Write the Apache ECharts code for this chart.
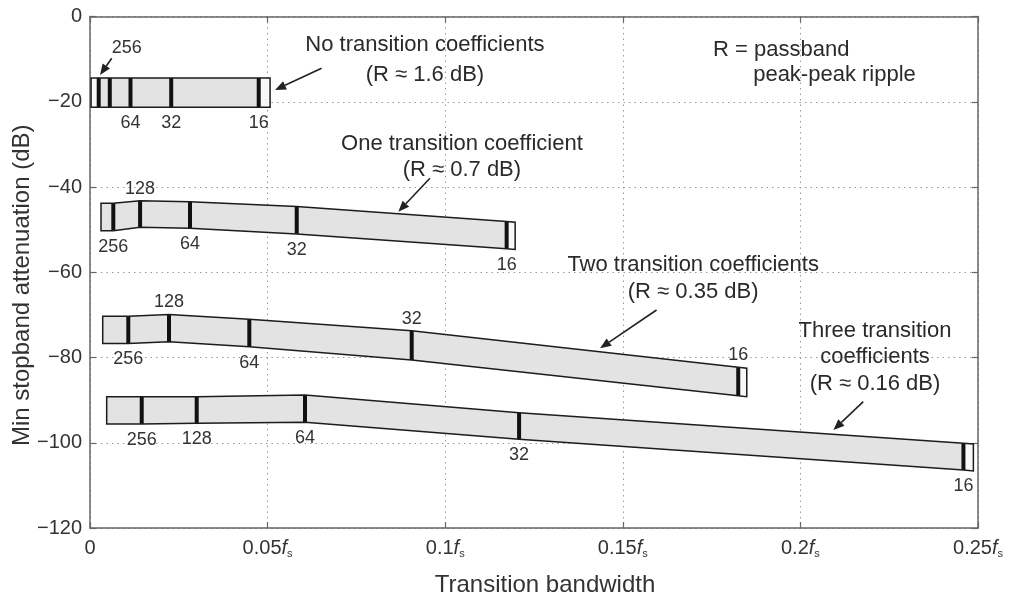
<!DOCTYPE html>
<html><head><meta charset="utf-8">
<script src="https://cdn.jsdelivr.net/npm/echarts@6/dist/echarts.min.js"></script>
<style>html,body{margin:0;padding:0;background:#fff}#c{width:1009px;height:592px}</style>
</head><body><div id="c"></div>
<script>
// ---------- DATA ----------
const xTickValues = [0, 0.05, 0.1, 0.15, 0.2, 0.25];
const yTickValues = [0, -20, -40, -60, -80, -100, -120];
const filterLengths = [256, 128, 64, 32, 16];

// each band: [left edge, N=256, 128, 64, 32, 16, right edge]
const band1X      = [0.0003, 0.00245, 0.00557, 0.0114, 0.02286, 0.0475, 0.0507];
const band1Top    = [-14.4, -14.4, -14.4, -14.4, -14.4, -14.4, -14.4];
const band1Bottom = [-21.3, -21.3, -21.3, -21.3, -21.3, -21.3, -21.3];

const band2X      = [0.0031, 0.00656, 0.0141, 0.02815, 0.0582, 0.1173, 0.1197];
const band2Top    = [-43.8, -43.8, -43.2, -43.45, -44.6, -48.1, -48.25];
const band2Bottom = [-50.25, -50.25, -49.45, -49.7, -51.0, -54.5, -54.65];

const band3X      = [0.00358, 0.01078, 0.02224, 0.04485, 0.09057, 0.1825, 0.1849];
const band3Top    = [-70.3, -70.3, -69.9, -71.0, -73.7, -82.3, -82.5];
const band3Bottom = [-76.7, -76.7, -76.3, -77.5, -80.6, -89.0, -89.2];

const band4X      = [0.0047, 0.01456, 0.03004, 0.06053, 0.1208, 0.2459, 0.2487];
const band4Top    = [-89.2, -89.2, -89.2, -88.8, -92.95, -100.1, -100.3];
const band4Bottom = [-95.6, -95.6, -95.4, -95.2, -99.2, -106.4, -106.6];

const bandTitles = [
  ['No transition coefficients', '(R \u2248 1.6 dB)'],
  ['One transition coefficient', '(R \u2248 0.7 dB)'],
  ['Two transition coefficients', '(R \u2248 0.35 dB)'],
  ['Three transition', 'coefficients', '(R \u2248 0.16 dB)']
];
const noteLines = ['R = passband', 'peak-peak ripple'];

// ---------- LAYOUT (not data) ----------
const FONT = 'Liberation Sans, Arial, Helvetica, sans-serif';
const labelSide = [
  [null, null, 'below', 'below', 'below'],
  ['below', 'above', 'below', 'below', 'below'],
  ['below', 'above', 'below', 'above', 'above'],
  ['below', 'below', 'below', 'below', 'below']
];
const lightStart = [true, false, false, false];
// title anchors in data coords: [x, y of each line]
const titleAnchor = [
  {x: 0.0943, ys: [-6.7, -13.7]},
  {x: 0.1047, ys: [-29.9, -36.0]},
  {x: 0.1698, ys: [-58.3, -64.6]},
  {x: 0.221,  ys: [-73.8, -79.9, -86.2]}
];
const arrows = [ // [fromX, fromY, toX, toY]
  [0.0652, -12.15, 0.0521, -17.24],
  [0.0957, -37.96, 0.0868, -45.8],
  [0.1595, -68.86, 0.1436, -77.84],
  [0.2177, -90.37, 0.2093, -97.0],
  [0.00611, -9.81, 0.00282, -13.72]
];
const label256Anchor = [0.01033, -7.46];
const noteAnchor = [[0.1754, -7.86], [0.1867, -13.72]];

const bands = [
  {x: band1X, top: band1Top, bottom: band1Bottom},
  {x: band2X, top: band2Top, bottom: band2Bottom},
  {x: band3X, top: band3Top, bottom: band3Bottom},
  {x: band4X, top: band4Top, bottom: band4Bottom}
];

function bandRender(b, sides, lightFirst) {
  return function (params, api) {
    if (params.dataIndex !== 0) return null;
    const n = b.x.length;
    const T = b.x.map((x, i) => api.coord([x, b.top[i]]));
    const B = b.x.map((x, i) => api.coord([x, b.bottom[i]]));
    const poly = T.concat(B.slice().reverse());
    const ch = [];
    ch.push({type: 'polygon', shape: {points: poly}, style: {fill: '#e3e3e3'}});
    ch.push({type: 'polygon', shape: {points: [T[n - 2], T[n - 1], B[n - 1], B[n - 2]]}, style: {fill: '#f8f8f8'}});
    if (lightFirst) {
      ch.push({type: 'polygon', shape: {points: [T[0], T[1], B[1], B[0]]}, style: {fill: '#f8f8f8'}});
    }
    for (let k = 1; k <= filterLengths.length; k++) {
      ch.push({type: 'line', shape: {x1: T[k][0], y1: T[k][1], x2: B[k][0], y2: B[k][1]},
        style: {stroke: '#111', lineWidth: 4}});
    }
    ch.push({type: 'polygon', shape: {points: poly}, style: {fill: null, stroke: '#1c1c1c', lineWidth: 1.5}});
    filterLengths.forEach((N, j) => {
      const side = sides[j];
      if (!side) return;
      const k = j + 1;
      const p = side === 'below' ? [B[k][0], B[k][1] + 16] : [T[k][0], T[k][1] - 12];
      ch.push({type: 'text', style: {text: String(N), x: p[0], y: p[1], align: 'center',
        verticalAlign: 'middle', font: '18px ' + FONT, fill: '#333'}});
    });
    return {type: 'group', children: ch};
  };
}

function arrowShape(a, api) {
  const s = api.coord([a[0], a[1]]), t = api.coord([a[2], a[3]]);
  const dx = t[0] - s[0], dy = t[1] - s[1], L = Math.hypot(dx, dy);
  const ux = dx / L, uy = dy / L, hl = 11, hw = 4.5;
  const bx = t[0] - ux * hl, by = t[1] - uy * hl;
  return [
    {type: 'line', shape: {x1: s[0], y1: s[1], x2: bx, y2: by}, style: {stroke: '#222', lineWidth: 1.6}},
    {type: 'polygon', shape: {points: [t, [bx - uy * hw, by + ux * hw], [bx + uy * hw, by - ux * hw]]},
      style: {fill: '#222'}}
  ];
}

function annotRender(params, api) {
  const ch = [];
  bandTitles.forEach((lines, i) => {
    lines.forEach((txt, j) => {
      const p = api.coord([titleAnchor[i].x, titleAnchor[i].ys[j]]);
      ch.push({type: 'text', style: {text: txt, x: p[0], y: p[1], align: 'center', verticalAlign: 'middle',
        font: '22px ' + FONT, fill: '#2a2a2a'}});
    });
  });
  noteLines.forEach((txt, j) => {
    const p = api.coord(noteAnchor[j]);
    ch.push({type: 'text', style: {text: txt, x: p[0], y: p[1], align: 'left', verticalAlign: 'middle',
      font: '22px ' + FONT, fill: '#2a2a2a'}});
  });
  const p256 = api.coord(label256Anchor);
  ch.push({type: 'text', style: {text: String(filterLengths[0]), x: p256[0], y: p256[1], align: 'center',
    verticalAlign: 'middle', font: '18px ' + FONT, fill: '#333'}});
  arrows.forEach(a => arrowShape(a, api).forEach(e => ch.push(e)));
  return {type: 'group', children: ch};
}

const gridLine = {show: true, lineStyle: {color: '#9a9a9a', width: 1, type: [1.5, 4]}};
const axisLineStyle = {show: true, onZero: false, lineStyle: {color: '#666', width: 1.5}};
const tickStyle = {show: true, inside: true, length: 6, lineStyle: {color: '#666', width: 1.2}};

const chart = echarts.init(document.getElementById('c'), null, {renderer: 'canvas'});
chart.setOption({
  animation: false,
  backgroundColor: '#fff',
  grid: {left: 90, right: 31, top: 16.5, bottom: 64, containLabel: false, outerBoundsMode: 'none'},
  xAxis: [{
    type: 'value', min: 0, max: 0.25, interval: 0.05,
    name: 'Transition bandwidth', nameLocation: 'middle', nameGap: 45,
    nameTextStyle: {fontFamily: FONT, fontSize: 24, color: '#333', padding: [0, 0, 0, 22]},
    axisLine: axisLineStyle, axisTick: tickStyle, splitLine: gridLine,
    axisLabel: {
      margin: 10, color: '#333', fontFamily: FONT, fontSize: 20,
      formatter: v => (v === 0 ? '0' : (+v.toFixed(2)) + '{i|f}{s|s}'),
      rich: {
        i: {fontStyle: 'italic', fontFamily: FONT, fontSize: 20, color: '#333'},
        s: {fontFamily: FONT, fontSize: 11, color: '#333', verticalAlign: 'bottom', padding: [10, 0, 0, 0]}
      }
    }
  }, {
    type: 'value', min: 0, max: 0.25, interval: 0.05, position: 'top',
    axisLine: axisLineStyle, axisTick: tickStyle, axisLabel: {show: false}, splitLine: {show: false}
  }],
  yAxis: [{
    type: 'value', min: -120, max: 0, interval: 20,
    name: 'Min stopband attenuation (dB)', nameLocation: 'middle', nameGap: 56, nameMoveOverlap: false,
    nameTextStyle: {fontFamily: FONT, fontSize: 24, color: '#333', padding: [0, 26, 0, 0]},
    axisLine: axisLineStyle, axisTick: tickStyle, splitLine: gridLine,
    axisLabel: {margin: 8, color: '#333', fontFamily: FONT, fontSize: 20,
      formatter: v => (v < 0 ? '\u2212' + (-v) : String(v))}
  }, {
    type: 'value', min: -120, max: 0, interval: 20, position: 'right',
    axisLine: axisLineStyle, axisTick: tickStyle, axisLabel: {show: false}, splitLine: {show: false}
  }],
  series: bands.map((b, i) => ({
    type: 'custom', name: bandTitles[i].join(' '), clip: false, z: 3,
    renderItem: bandRender(b, labelSide[i], lightStart[i]),
    encode: {x: 0, y: [1, 2]},
    data: b.x.map((x, k) => [x, b.top[k], b.bottom[k]])
  })).concat([{
    type: 'custom', name: 'annotations', clip: false, z: 4,
    renderItem: annotRender, encode: {x: 0, y: 1}, data: [[0, 0]]
  }])
});
</script>
</body></html>
